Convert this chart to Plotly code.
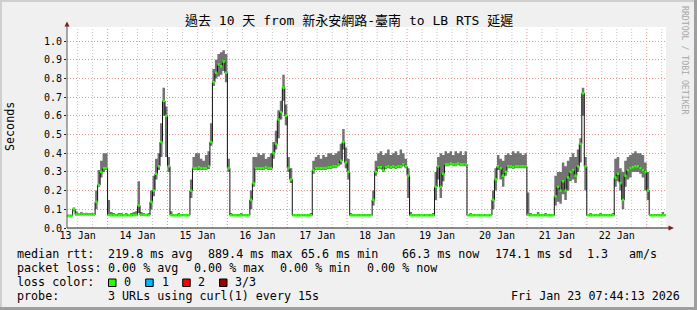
import plotly.graph_objects as go
import pandas as pd

# ---------------- data (seconds), hourly steps ----------------
START = pd.Timestamp("2026-01-13 07:44:13")
END = pd.Timestamp("2026-01-23 07:44:13")
FIRST_STEP = "2026-01-13 07:00"

# Jan 13 (hours 07..23)
med_13 = [0.066, 0.066, 0.066, 0.100, 0.072, 0.072, 0.072, 0.072, 0.072, 0.072, 0.072, 0.072, 0.140, 0.230, 0.300, 0.320, 0.320]
hi_13 = [0.068, 0.068, 0.070, 0.110, 0.090, 0.080, 0.085, 0.080, 0.082, 0.080, 0.080, 0.080, 0.200, 0.310, 0.360, 0.400, 0.400]
lo_13 = [0.066, 0.066, 0.066, 0.090, 0.070, 0.070, 0.070, 0.070, 0.070, 0.070, 0.070, 0.070, 0.100, 0.220, 0.270, 0.300, 0.310]
# Jan 14 (hours 00..23)
med_14 = [0.070, 0.068, 0.068, 0.068, 0.068, 0.068, 0.068, 0.068, 0.068, 0.068, 0.068, 0.070, 0.120, 0.070, 0.070, 0.070, 0.068, 0.140, 0.200, 0.290, 0.330, 0.460, 0.680, 0.600]
hi_14 = [0.150, 0.085, 0.080, 0.075, 0.080, 0.080, 0.075, 0.080, 0.075, 0.080, 0.085, 0.090, 0.250, 0.085, 0.080, 0.075, 0.080, 0.200, 0.280, 0.370, 0.400, 0.560, 0.750, 0.650]
lo_14 = [0.068, 0.066, 0.066, 0.066, 0.066, 0.066, 0.066, 0.066, 0.066, 0.066, 0.066, 0.068, 0.080, 0.068, 0.068, 0.068, 0.066, 0.100, 0.170, 0.260, 0.310, 0.380, 0.600, 0.380]
# Jan 15
med_15 = [0.330, 0.068, 0.068, 0.068, 0.068, 0.068, 0.068, 0.068, 0.068, 0.200, 0.320, 0.320, 0.325, 0.320, 0.320, 0.320, 0.330, 0.460, 0.780, 0.830, 0.875, 0.865, 0.890, 0.830]
hi_15 = [0.380, 0.090, 0.075, 0.075, 0.080, 0.075, 0.075, 0.075, 0.075, 0.260, 0.380, 0.400, 0.400, 0.370, 0.360, 0.390, 0.410, 0.560, 0.850, 0.900, 0.930, 0.940, 0.950, 0.930]
lo_15 = [0.300, 0.066, 0.066, 0.066, 0.066, 0.066, 0.066, 0.066, 0.066, 0.160, 0.310, 0.310, 0.310, 0.310, 0.310, 0.310, 0.315, 0.440, 0.760, 0.800, 0.810, 0.820, 0.840, 0.780]
# Jan 16
med_16 = [0.320, 0.068, 0.068, 0.068, 0.068, 0.068, 0.068, 0.068, 0.068, 0.150, 0.240, 0.320, 0.320, 0.320, 0.320, 0.325, 0.320, 0.320, 0.400, 0.450, 0.580, 0.620, 0.750, 0.600]
hi_16 = [0.370, 0.080, 0.075, 0.075, 0.075, 0.080, 0.075, 0.075, 0.075, 0.200, 0.380, 0.380, 0.400, 0.390, 0.400, 0.370, 0.380, 0.400, 0.460, 0.520, 0.630, 0.680, 0.820, 0.660]
lo_16 = [0.300, 0.066, 0.066, 0.066, 0.066, 0.066, 0.066, 0.066, 0.066, 0.100, 0.220, 0.310, 0.310, 0.310, 0.310, 0.315, 0.310, 0.310, 0.370, 0.420, 0.480, 0.580, 0.680, 0.550]
# Jan 17
med_17 = [0.320, 0.260, 0.068, 0.068, 0.068, 0.068, 0.068, 0.068, 0.068, 0.068, 0.310, 0.320, 0.320, 0.320, 0.320, 0.320, 0.325, 0.325, 0.330, 0.330, 0.340, 0.360, 0.460, 0.350]
hi_17 = [0.380, 0.320, 0.075, 0.075, 0.075, 0.075, 0.075, 0.075, 0.075, 0.080, 0.360, 0.380, 0.390, 0.370, 0.390, 0.380, 0.400, 0.400, 0.390, 0.400, 0.410, 0.450, 0.530, 0.430]
lo_17 = [0.300, 0.240, 0.066, 0.066, 0.066, 0.066, 0.066, 0.066, 0.066, 0.066, 0.290, 0.310, 0.310, 0.310, 0.310, 0.310, 0.315, 0.315, 0.320, 0.320, 0.330, 0.340, 0.420, 0.320]
# Jan 18
med_18 = [0.300, 0.068, 0.068, 0.068, 0.068, 0.068, 0.068, 0.068, 0.068, 0.068, 0.150, 0.300, 0.325, 0.325, 0.310, 0.325, 0.330, 0.325, 0.330, 0.325, 0.330, 0.330, 0.340, 0.330]
hi_18 = [0.370, 0.080, 0.075, 0.075, 0.075, 0.075, 0.075, 0.075, 0.075, 0.075, 0.200, 0.360, 0.400, 0.410, 0.390, 0.400, 0.420, 0.390, 0.400, 0.410, 0.390, 0.420, 0.400, 0.370]
lo_18 = [0.260, 0.066, 0.066, 0.066, 0.066, 0.066, 0.066, 0.066, 0.066, 0.066, 0.120, 0.280, 0.315, 0.315, 0.300, 0.315, 0.320, 0.315, 0.320, 0.315, 0.320, 0.320, 0.330, 0.320]
# Jan 19
med_19 = [0.280, 0.068, 0.068, 0.068, 0.068, 0.068, 0.068, 0.068, 0.068, 0.068, 0.068, 0.220, 0.330, 0.220, 0.290, 0.340, 0.340, 0.345, 0.340, 0.340, 0.345, 0.340, 0.340, 0.340]
hi_19 = [0.320, 0.085, 0.075, 0.075, 0.075, 0.075, 0.075, 0.075, 0.075, 0.075, 0.080, 0.300, 0.380, 0.400, 0.390, 0.410, 0.400, 0.410, 0.390, 0.410, 0.400, 0.410, 0.390, 0.410]
lo_19 = [0.160, 0.066, 0.066, 0.066, 0.066, 0.066, 0.066, 0.066, 0.066, 0.066, 0.066, 0.150, 0.260, 0.160, 0.250, 0.330, 0.330, 0.335, 0.330, 0.330, 0.335, 0.330, 0.330, 0.330]
# Jan 20
med_20 = [0.068, 0.068, 0.068, 0.068, 0.068, 0.068, 0.068, 0.068, 0.068, 0.068, 0.150, 0.260, 0.330, 0.320, 0.280, 0.300, 0.330, 0.330, 0.325, 0.330, 0.330, 0.330, 0.330, 0.330]
hi_20 = [0.075, 0.080, 0.075, 0.075, 0.075, 0.075, 0.075, 0.075, 0.075, 0.075, 0.200, 0.320, 0.390, 0.370, 0.360, 0.390, 0.400, 0.390, 0.410, 0.400, 0.410, 0.400, 0.390, 0.400]
lo_20 = [0.066, 0.066, 0.066, 0.066, 0.066, 0.066, 0.066, 0.066, 0.066, 0.066, 0.100, 0.200, 0.310, 0.260, 0.220, 0.280, 0.320, 0.320, 0.315, 0.320, 0.320, 0.320, 0.320, 0.320]
# Jan 21
med_21 = [0.070, 0.068, 0.068, 0.068, 0.068, 0.068, 0.068, 0.068, 0.068, 0.068, 0.068, 0.170, 0.220, 0.200, 0.250, 0.200, 0.270, 0.300, 0.310, 0.280, 0.330, 0.450, 0.720, 0.330]
hi_21 = [0.190, 0.080, 0.075, 0.075, 0.085, 0.075, 0.075, 0.080, 0.075, 0.075, 0.075, 0.280, 0.300, 0.300, 0.350, 0.330, 0.360, 0.380, 0.400, 0.380, 0.420, 0.480, 0.750, 0.380]
lo_21 = [0.068, 0.066, 0.066, 0.066, 0.066, 0.066, 0.066, 0.066, 0.066, 0.066, 0.066, 0.120, 0.140, 0.130, 0.180, 0.150, 0.200, 0.250, 0.260, 0.240, 0.300, 0.350, 0.600, 0.200]
# Jan 22
med_22 = [0.068, 0.068, 0.068, 0.068, 0.068, 0.068, 0.068, 0.068, 0.068, 0.068, 0.068, 0.270, 0.290, 0.240, 0.150, 0.280, 0.310, 0.320, 0.325, 0.330, 0.330, 0.320, 0.310, 0.300]
hi_22 = [0.075, 0.080, 0.075, 0.075, 0.075, 0.080, 0.075, 0.075, 0.075, 0.075, 0.080, 0.370, 0.380, 0.320, 0.300, 0.360, 0.380, 0.390, 0.400, 0.410, 0.400, 0.400, 0.390, 0.350]
lo_22 = [0.066, 0.066, 0.066, 0.066, 0.066, 0.066, 0.066, 0.066, 0.066, 0.066, 0.066, 0.220, 0.250, 0.200, 0.100, 0.220, 0.260, 0.270, 0.300, 0.300, 0.300, 0.290, 0.270, 0.200]
# Jan 23 (hours 00..08)
med_23 = [0.200, 0.068, 0.068, 0.068, 0.068, 0.068, 0.068, 0.068, 0.068]
hi_23 = [0.300, 0.075, 0.075, 0.075, 0.075, 0.075, 0.085, 0.075, 0.075]
lo_23 = [0.150, 0.066, 0.066, 0.066, 0.066, 0.066, 0.066, 0.066, 0.066]

median = med_13 + med_14 + med_15 + med_16 + med_17 + med_18 + med_19 + med_20 + med_21 + med_22 + med_23
smoke_hi = hi_13 + hi_14 + hi_15 + hi_16 + hi_17 + hi_18 + hi_19 + hi_20 + hi_21 + hi_22 + hi_23
smoke_lo = lo_13 + lo_14 + lo_15 + lo_16 + lo_17 + lo_18 + lo_19 + lo_20 + lo_21 + lo_22 + lo_23
times = pd.date_range(FIRST_STEP, periods=len(median), freq="h")

day_labels = ["13 Jan", "14 Jan", "15 Jan", "16 Jan", "17 Jan", "18 Jan", "19 Jan", "20 Jan", "21 Jan", "22 Jan"]
label_pos = pd.date_range("2026-01-13 12:00", periods=len(day_labels), freq="D")

TITLE = "過去 10 天 from 新永安網路-臺南 to LB RTS 延遲"
legend_rows = [
    [("median rtt:", 16), ("219.8 ms avg", 107.3), ("889.4 ms max", 207.3), ("65.6 ms min", 300),
     ("66.3 ms now", 400.7), ("174.1 ms sd", 494), ("1.3", 586), ("am/s", 628.3)],
    [("packet loss:", 16), ("0.00 % avg", 107.3), ("0.00 % max", 193.3), ("0.00 % min", 279.3), ("0.00 % now", 366)],
    [("loss color:", 16), ("0", 123.3), ("1", 160.7), ("2", 197.3), ("3/3", 234)],
    [("probe:", 16), ("3 URLs using curl(1) every 15s", 107.3)],
]
row_y = [254, 268.3, 282.3, 295.7]
loss_boxes = [("#26ff00", 108.5), ("#00b8ff", 145.7), ("#ff0000", 182.7), ("#990000", 219.5)]
STAMP = "Fri Jan 23 07:44:13 2026"

# ---------------- layout geometry ----------------
W, H = 697, 310
L, R, T, B = 67, 666, 27, 228
MONO = "DejaVu Sans Mono, Noto Sans CJK TC, monospace"


def xp(px):
    return (px - L) / (R - L)


def yp(py):
    return (B - py) / (B - T)


fig = go.Figure()

# smoke
fig.add_trace(go.Scatter(x=times, y=smoke_lo, mode="lines", line=dict(width=0, shape="hv"),
                         hoverinfo="skip"))
fig.add_trace(go.Scatter(x=times, y=smoke_hi, mode="lines", line=dict(width=0, shape="hv"),
                         fill="tonexty", fillcolor="#737373", hoverinfo="skip"))
# median black step line
fig.add_trace(go.Scatter(x=times, y=median, mode="lines",
                         line=dict(color="#111111", width=1, shape="hv")))
# green loss-coloured median segments
gx, gy = [], []
for i in range(len(median) - 1):
    gx += [times[i], times[i + 1], None]
    gy += [median[i], median[i], None]
fig.add_trace(go.Scatter(x=gx, y=gy, mode="lines", line=dict(color="#26ff00", width=2.5)))

shapes = []
# vertical grid lines every 6 h (red at midnight)
for t in pd.date_range("2026-01-13 12:00", END, freq="6h"):
    col = "#ec9494" if t.hour == 0 else "#c4c4c4"
    shapes.append(dict(type="line", xref="x", yref="paper", x0=t, x1=t, y0=0, y1=1,
                       line=dict(color=col, width=1, dash="1px,2px"), layer="below"))
# axes lines
shapes.append(dict(type="line", xref="paper", yref="paper", x0=xp(L), x1=xp(670), y0=0, y1=0,
                   line=dict(color="#1f1f1f", width=1)))
shapes.append(dict(type="line", xref="paper", yref="paper", x0=0, x1=0, y0=0, y1=yp(23),
                   line=dict(color="#555555", width=1)))
# arrows
shapes.append(dict(type="path", xref="paper", yref="paper",
                   path=f"M {xp(64.5)},{yp(26.5)} L {xp(69.5)},{yp(26.5)} L {xp(67)},{yp(21.5)} Z",
                   fillcolor="#7f1f1f", line=dict(width=0)))
shapes.append(dict(type="path", xref="paper", yref="paper",
                   path=f"M {xp(668.5)},{yp(225.5)} L {xp(668.5)},{yp(230.5)} L {xp(674)},{yp(228)} Z",
                   fillcolor="#7f1f1f", line=dict(width=0)))
# outer bevel border
for (x0, y0, x1, y1, c) in [(0, 0, W, 2, "#cfcfcf"), (0, 0, 2, H, "#cfcfcf"),
                            (0, H - 3, W, H, "#9e9e9e"), (W - 3, 0, W, H, "#9e9e9e")]:
    shapes.append(dict(type="rect", xref="paper", yref="paper", x0=xp(x0), x1=xp(x1),
                       y0=yp(y1), y1=yp(y0), fillcolor=c, line=dict(width=0)))
# loss colour boxes
for c, bx in loss_boxes:
    shapes.append(dict(type="rect", xref="paper", yref="paper", x0=xp(bx), x1=xp(bx + 7.5),
                       y0=yp(286.5), y1=yp(279), fillcolor=c, line=dict(color="#000000", width=1)))

annotations = []
annotations.append(dict(text=TITLE, xref="paper", yref="paper", x=xp(348.5), y=yp(21),
                        xanchor="center", yanchor="middle", showarrow=False,
                        font=dict(family=MONO, size=13, color="#000000")))
annotations.append(dict(text="Seconds", xref="paper", yref="paper", x=xp(10), y=yp(127),
                        xanchor="center", yanchor="middle", textangle=-90, showarrow=False,
                        font=dict(family=MONO, size=11.7, color="#000000")))
annotations.append(dict(text="RRDTOOL / TOBI OETIKER", xref="paper", yref="paper", x=xp(685), y=yp(60),
                        xanchor="center", yanchor="middle", textangle=90, showarrow=False,
                        font=dict(family=MONO, size=8.2, color="#a8a8a8")))
for row, ry in zip(legend_rows, row_y):
    for txt, px in row:
        annotations.append(dict(text=txt, xref="paper", yref="paper", x=xp(px - 1), y=yp(ry),
                                xanchor="left", yanchor="middle", showarrow=False,
                                font=dict(family=MONO, size=11.7, color="#000000")))
annotations.append(dict(text=STAMP, xref="paper", yref="paper", x=xp(682), y=yp(295.7),
                        xanchor="right", yanchor="middle", showarrow=False,
                        font=dict(family=MONO, size=11.7, color="#000000")))

fig.update_layout(
    width=W, height=H,
    margin=dict(l=L, r=W - R, t=T, b=H - B, pad=0),
    paper_bgcolor="#f0f0f0", plot_bgcolor="#ffffff",
    showlegend=False,
    shapes=shapes, annotations=annotations,
    xaxis=dict(type="date", range=[START, END], tickmode="array", tickvals=list(label_pos),
               ticktext=day_labels, showgrid=False, zeroline=False, showline=False, ticks="",
               tickfont=dict(family=MONO, size=10, color="#000000")),
    yaxis=dict(range=[0, (B - T) / 187.0], tick0=0, dtick=0.1, tickformat=".1f",
               showgrid=True, gridcolor="#ec9494", griddash="1px,2px", gridwidth=1,
               zeroline=False, showline=False, ticks="outside", ticklen=2, tickcolor="#1f1f1f",
               tickfont=dict(family=MONO, size=10, color="#000000")),
)

fig.write_html("out.html")
